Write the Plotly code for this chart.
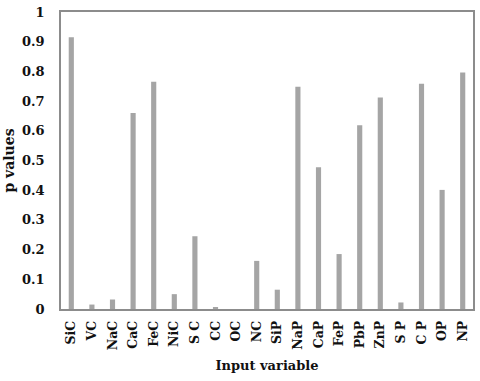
import plotly.graph_objects as go

categories = ["SiC", "VC", "NaC", "CaC", "FeC", "NiC", "S C", "CC", "OC", "NC",
              "SiP", "NaP", "CaP", "FeP", "PbP", "ZnP", "S P", "C P", "OP", "NP"]
p_values = [0.915, 0.015, 0.032, 0.660, 0.765, 0.050, 0.245, 0.004, 0.0, 0.162,
            0.065, 0.748, 0.477, 0.185, 0.619, 0.712, 0.022, 0.758, 0.401, 0.796]
y_ticks = [0, 0.1, 0.2, 0.3, 0.4, 0.5, 0.6, 0.7, 0.8, 0.9, 1]
y_tick_labels = ["0", "0.1", "0.2", "0.3", "0.4", "0.5", "0.6", "0.7", "0.8", "0.9", "1"]

font_family = "DejaVu Serif"

fig = go.Figure(go.Bar(
    x=categories, y=p_values,
    marker=dict(color="#A5A5A5", line=dict(width=0)),
    width=0.25,
))

fig.update_layout(
    width=480, height=381,
    margin=dict(l=61, r=5, t=8, b=72),
    paper_bgcolor="white", plot_bgcolor="white",
    showlegend=False,
    font=dict(family=font_family, size=13, color="#111111"),
    xaxis=dict(
        title=dict(text="<b>Input variable</b>", font=dict(size=13), standoff=12),
        tickangle=-90,
        tickfont=dict(size=12.5, family=font_family, weight="bold"),
        showline=True, linecolor="#8C8C8C", linewidth=1.5, mirror=True,
        showgrid=False, ticks="outside", ticklen=5, tickcolor="rgba(0,0,0,0)",
    ),
    yaxis=dict(
        title=dict(text="<b>p values</b>", font=dict(size=14), standoff=4),
        range=[0, 1], tickvals=y_ticks, ticktext=y_tick_labels,
        tickfont=dict(size=13, family=font_family, weight="bold"),
        ticklabeloverflow="allow",
        showline=True, linecolor="#8C8C8C", linewidth=1.5, mirror=True,
        showgrid=False, zeroline=False,
        ticks="outside", ticklen=12, tickcolor="rgba(0,0,0,0)",
    ),
)

fig.write_html("out.html")
